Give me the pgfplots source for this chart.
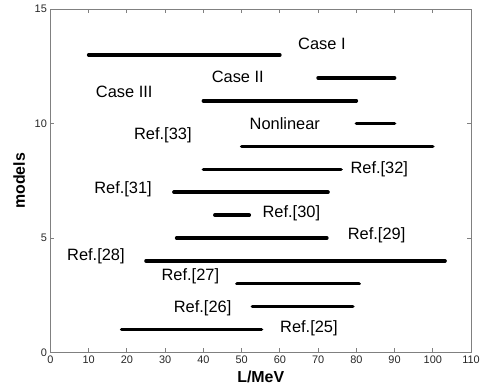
\documentclass[border=0pt]{standalone}
\usepackage{fontspec}
\setmainfont{Liberation Sans}
\usepackage{pgfplots}
\pgfplotsset{compat=1.18}
\begin{document}
\begin{tikzpicture}
\begin{axis}[
  scale only axis,
  width=423pt, height=345pt,
  xmin=0, xmax=110, ymin=0, ymax=15,
  xtick={0,10,...,110},
  ytick={0,5,10,15},
  tick align=inside,
  major tick length=4pt,
  axis line style={draw=black!50, line width=0.8pt},
  every tick/.style={draw=black!50, line width=0.8pt},
  tick label style={font=\fontsize{11}{12}\selectfont, text=black!85},
  /pgf/number format/assume math mode=true,
  xlabel={\textbf{L/MeV}},
  ylabel={\textbf{models}},
  label style={font=\fontsize{16}{18}\selectfont},
  xlabel style={yshift=-1pt},
  ylabel style={yshift=3pt},
  clip=false,
  seg/.style={black, line width=3.6pt, line cap=round, mark=none, solid},
]
\addplot[seg] coordinates {(10,13) (60,13)};
\addplot[seg] coordinates {(70,12) (90,12)};
\addplot[seg] coordinates {(40,11) (80,11)};
\addplot[seg] coordinates {(80,10) (90,10)};
\addplot[seg] coordinates {(50,9) (100,9)};
\addplot[seg] coordinates {(40,8) (76,8)};
\addplot[seg] coordinates {(32.3,7) (72.6,7)};
\addplot[seg] coordinates {(43,6) (52,6)};
\addplot[seg] coordinates {(33,5) (72.3,5)};
\addplot[seg] coordinates {(25,4) (103.2,4)};
\addplot[seg] coordinates {(48.8,3) (80.7,3)};
\addplot[seg] coordinates {(52.8,2) (79.1,2)};
\addplot[seg] coordinates {(18.6,1) (55.2,1)};
\begin{scope}[every node/.style={font=\fontsize{16.5}{18}\selectfont}]
\node at (axis cs:71,13.5) {Case I};
\node at (axis cs:49,12.05) {Case II};
\node at (axis cs:19.3,11.4) {Case III};
\node at (axis cs:61.3,10.0) {Nonlinear};
\node at (axis cs:29.4,9.48) {Ref.[33]};
\node at (axis cs:86,8.0) {Ref.[32]};
\node at (axis cs:19,7.13) {Ref.[31]};
\node at (axis cs:63,6.09) {Ref.[30]};
\node at (axis cs:85.3,5.1) {Ref.[29]};
\node at (axis cs:11.9,4.19) {Ref.[28]};
\node at (axis cs:36.6,3.33) {Ref.[27]};
\node at (axis cs:39.8,1.94) {Ref.[26]};
\node at (axis cs:67.6,1.04) {Ref.[25]};
\end{scope}
\end{axis}
\pgfresetboundingbox
\path ([xshift=-50.7pt,yshift=-38pt]current axis.south west) rectangle ([xshift=10pt,yshift=9.3pt]current axis.north east);
\end{tikzpicture}
\end{document}
